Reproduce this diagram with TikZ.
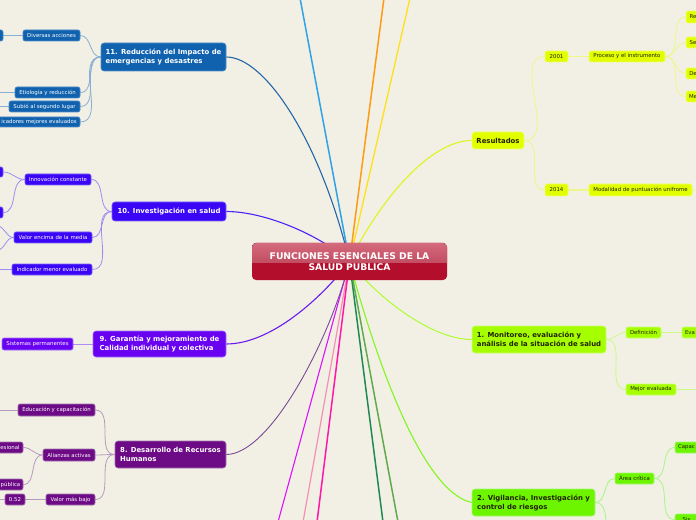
\documentclass[tikz,border=0pt]{standalone}
\usepackage{fontspec}
\setmainfont{DejaVu Sans}
\usetikzlibrary{backgrounds}
\definecolor{bgc}{HTML}{F2F0E4}
% node fills / borders
\definecolor{c11}{HTML}{1062AE}\definecolor{c11b}{HTML}{4F8CC8}\definecolor{c11l}{HTML}{88AED4}\definecolor{c11m}{HTML}{2566A8}
\definecolor{c10}{HTML}{3A06F5}\definecolor{c10b}{HTML}{7A60FA}\definecolor{c10l}{HTML}{9C8CF5}\definecolor{c10m}{HTML}{4B22F5}
\definecolor{c9}{HTML}{6A02F2}\definecolor{c9b}{HTML}{A070F8}\definecolor{c9l}{HTML}{B28CF5}\definecolor{c9m}{HTML}{6A1AF0}
\definecolor{c8}{HTML}{6D0A86}\definecolor{c8b}{HTML}{A070B0}\definecolor{c8l}{HTML}{B49AC0}\definecolor{c8m}{HTML}{7A4A98}
\definecolor{cr}{HTML}{E2FF00}\definecolor{crb}{HTML}{F0FF70}\definecolor{crl}{HTML}{EDF78A}\definecolor{crm}{HTML}{DEF51E}
\definecolor{c1}{HTML}{A6FF00}\definecolor{c1b}{HTML}{C8FF70}\definecolor{c1l}{HTML}{CBFA8A}\definecolor{c1m}{HTML}{A8FF20}
\definecolor{c2}{HTML}{6DF500}\definecolor{c2b}{HTML}{A0F870}\definecolor{c2l}{HTML}{A8F585}\definecolor{c2m}{HTML}{84F520}
\definecolor{dtext}{HTML}{222200}
% radial lines
\definecolor{lsky}{HTML}{2EA3E8}\definecolor{lora}{HTML}{FF9A14}\definecolor{lyel}{HTML}{FFE01A}
\definecolor{lmag}{HTML}{DD11FF}\definecolor{lpink}{HTML}{F58FB5}\definecolor{lhot}{HTML}{FF18A8}
\definecolor{ldg}{HTML}{1E8A52}\definecolor{lmg}{HTML}{5FAA4C}
\definecolor{cenbot}{HTML}{B30F2D}\definecolor{centopa}{HTML}{D46A7C}\definecolor{centopb}{HTML}{C24E62}
\newcommand{\bx}[7]{\node[#1, minimum width={((#5)-(#3))*1bp}, minimum height={((#6)-(#4))*1bp}] (#2) at ({((#3)+(#5))/2},{((#4)+(#6))/2}) {#7};}
\tikzset{
  mainnode/.style={rounded corners=3bp, inner sep=0pt, align=left, line width=0.6bp,
    font=\bfseries\fontsize{6.9bp}{9bp}\selectfont},
  subnode/.style={rounded corners=2bp, inner sep=0pt, line width=0.6bp,
    font=\fontsize{5.4bp}{6bp}\selectfont},
  s11/.style={fill=c11,draw=c11b,text=white},
  s10/.style={fill=c10,draw=c10b,text=white},
  s9/.style={fill=c9,draw=c9b,text=white},
  s8/.style={fill=c8,draw=c8b,text=white},
  sr/.style={fill=cr,draw=crb,text=dtext},
  s1/.style={fill=c1,draw=c1b,text=dtext},
  s2/.style={fill=c2,draw=c2b,text=dtext},
  subline/.style={line width=0.8bp},
  lt/.style={out=180,in=0},
  rt/.style={out=0,in=180},
}
\begin{document}
\begin{tikzpicture}[x=1bp,y=-1bp]
\useasboundingbox (0,0) rectangle (696,520);
\begin{pgfonlayer}{background}
\fill[bgc] (0,0) rectangle (696,520);
\end{pgfonlayer}

% central node
\fill[cenbot, rounded corners=4bp] (252,243) rectangle (447,280);
\begin{scope}
\clip[rounded corners=4bp] (252,243) rectangle (447,280);
\fill[top color=centopa, bottom color=centopb] (252,243) rectangle (447,262.5);
\end{scope}
\node[text=white, align=center, inner sep=0pt, minimum width=195bp, minimum height=37bp,
  font=\bfseries\fontsize{9.2bp}{11bp}\selectfont] (cen) at (349.5,261.5)
  {FUNCIONES ESENCIALES DE LA\\SALUD PUBLICA};

% main nodes
\bx{mainnode,s11}{n11}{101}{43}{226}{71}{11. Reducción del Impacto de\\emergencias y desastres}
\bx{mainnode,s10}{n10}{112}{202}{226}{221}{10. Investigación en salud}
\bx{mainnode,s9}{n9}{93}{331}{226}{357}{9. Garantía y mejoramiento de\\Calidad individual y colectiva}
\bx{mainnode,s8}{n8}{115}{441}{226}{468}{8. Desarrollo de Recursos\\Humanos}
\bx{mainnode,sr}{res}{472}{132}{524}{149}{Resultados}
\bx{mainnode,s1}{n1}{472}{326}{606}{353}{1. Monitoreo, evaluación y\\análisis de la situación de salud}
\bx{mainnode,s2}{n2}{472}{489}{595}{516}{2. Vigilancia, Investigación y\\control de riesgos}

% branch 11
\bx{subnode,s11}{a11}{-10}{30}{3}{41}{}
\bx{subnode,s11}{d11}{23}{30}{80}{41}{Diversas acciones}
\bx{subnode,s11}{e11}{15}{87}{80}{98}{Etiología y reducción}
\bx{subnode,s11}{u11}{9}{101}{80}{112}{Subió al segundo lugar}
\bx{subnode,s11}{i11}{-2}{117}{80}{127}{icadores mejores evaluados}
% branch 10
\bx{subnode,s10}{p10a}{-10}{167}{3}{177}{}
\bx{subnode,s10}{p10b}{-10}{207}{3}{218}{}
\bx{subnode,s10}{inn10}{25}{174}{91}{185}{Innovación constante}
\bx{subnode,s10}{val10}{14}{232}{92}{243}{Valor encima de la media}
\bx{subnode,s10}{ind10}{12}{264}{92}{275}{Indicador menor evaluado}
% branch 9
\bx{subnode,s9}{sys9}{2}{338}{73}{350}{Sistemas permanentes}
% branch 8
\bx{subnode,s8}{edu8}{18}{404}{95}{416}{Educación y capacitación}
\bx{subnode,s8}{ali8}{43}{449}{95}{461}{Alianzas activas}
\bx{subnode,s8}{pro8}{-3}{442}{23}{453}{esional}
\bx{subnode,s8}{pub8}{-2}{479}{23}{490}{pública}
\bx{subnode,s8}{val8}{46}{494}{95}{505}{Valor más bajo}
\bx{subnode,s8}{z8}{5}{494}{25}{505}{0.52}
% branch resultados
\bx{subnode,sr}{y01}{545}{51}{568}{62}{2001}
\bx{subnode,sr}{proc}{589}{51}{665}{62}{Proceso y el instrumento}
\bx{subnode,sr}{r1}{686}{11}{700}{23}{Re}
\bx{subnode,sr}{r2}{686}{37}{700}{48}{Se}
\bx{subnode,sr}{r3}{686}{68}{700}{79}{De}
\bx{subnode,sr}{r4}{686}{91}{700}{102}{Me}
\bx{subnode,sr}{y14}{545}{184}{568}{196}{2014}
\bx{subnode,sr}{mod}{589}{184}{692}{196}{Modalidad de puntuación unifrome}
% branch 1
\bx{subnode,s1}{def1}{626}{327}{661}{338}{Definición}
\bx{subnode,s1}{eva1}{682}{327}{698}{338}{Eva}
\bx{subnode,s1}{mej1}{626}{384}{676}{395}{Mejor evaluada}
% branch 2
\bx{subnode,s2}{are2}{615}{473}{654}{484}{Área crítica}
\bx{subnode,s2}{cap2}{675}{442}{698}{453}{Capac}
\bx{subnode,s2}{sis2}{675}{514}{698}{525}{Sis}

% free ends
\coordinate (t1) at (300,-2); \coordinate (t2) at (384,-2); \coordinate (t3) at (410,-2);
\coordinate (b1) at (278,522); \coordinate (b2) at (303,522); \coordinate (b3) at (317,522);
\coordinate (b4) at (383,522); \coordinate (b5) at (398,522);
\coordinate (e11a) at (-5,92.5); \coordinate (e11b) at (-5,106.5);
\coordinate (v10a) at (-3,226); \coordinate (v10b) at (-3,250); \coordinate (i10) at (-5,269.5);
\coordinate (ed8) at (-5,410); \coordinate (z8e) at (-5,499.5);
\coordinate (mode) at (700,190); \coordinate (meje) at (700,389.5);
\coordinate (n2d) at (606,526);

\begin{pgfonlayer}{background}
% radial lines
\draw[lsky, line width=1.5bp] (cen.center) -- (t1);
\draw[lora, line width=1.5bp] (cen.center) -- (t2);
\draw[lyel, line width=1.3bp] (cen.center) -- (t3);
\draw[lmag, line width=1.1bp] (cen.center) -- (b1);
\draw[lpink, line width=1.2bp] (cen.center) -- (b2);
\draw[lhot, line width=1.5bp] (cen.center) -- (b3);
\draw[ldg, line width=1.5bp] (cen.center) -- (b4);
\draw[lmg, line width=1.5bp] (cen.center) -- (b5);
% main curves
\draw[c11m, line width=1.1bp] (cen.center) .. controls (320,140) and (265,57) .. (n11.east);
\draw[c10m, line width=1.1bp] (cen.center) .. controls (320,235) and (265,211.5) .. (n10.east);
\draw[c9m, line width=1.1bp] (cen.center) .. controls (320,300) and (270,344) .. (n9.east);
\draw[c8m, line width=0.9bp] (cen.center) .. controls (330,340) and (270,454.5) .. (n8.east);
\draw[crm, line width=1.1bp] (cen.center) .. controls (380,200) and (430,140.5) .. (res.west);
\draw[c1m, line width=0.9bp] (cen.center) .. controls (375,295) and (430,339.5) .. (n1.west);
\draw[c2m, line width=1.1bp] (cen.center) .. controls (365,320) and (415,490) .. (n2.west);
% branch 11
\draw[c11l, subline] (n11.west) to[lt] (d11.east);
\draw[c11l, subline] (n11.west) to[lt] (e11.east);
\draw[c11l, subline] (n11.west) to[lt] (u11.east);
\draw[c11l, subline] (n11.west) to[lt] (i11.east);
\draw[c11l, line width=1.4bp] (d11.west) -- (a11.east);
\draw[c11l, subline] (e11.west) -- (e11a);
\draw[c11l, subline] (u11.west) -- (e11b);
% branch 10
\draw[c10l, subline] (n10.west) to[lt] (inn10.east);
\draw[c10l, subline] (n10.west) to[lt] (val10.east);
\draw[c10l, subline] (n10.west) to[lt] (ind10.east);
\draw[c10l, subline] (inn10.west) to[lt] (p10a.east);
\draw[c10l, subline] (inn10.west) to[lt] (p10b.east);
\draw[c10l, subline] (val10.west) to[lt] (v10a);
\draw[c10l, subline] (val10.west) to[lt] (v10b);
\draw[c10l, subline] (ind10.west) -- (i10);
% branch 9
\draw[c9l, line width=1bp] (n9.west) -- (sys9.east);
% branch 8
\draw[c8l, subline] (n8.west) to[lt] (edu8.east);
\draw[c8l, subline] (n8.west) to[lt] (ali8.east);
\draw[c8l, subline] (n8.west) to[lt] (val8.east);
\draw[c8l, subline] (ali8.west) to[lt] (pro8.east);
\draw[c8l, subline] (ali8.west) to[lt] (pub8.east);
\draw[c8l, line width=1.2bp] (val8.west) -- (z8.east);
\draw[c8l, subline] (edu8.west) -- (ed8);
\draw[c8l, subline] (z8.west) -- (z8e);
% branch resultados
\draw[crl, subline] (res.east) to[rt] (y01.west);
\draw[crl, subline] (res.east) to[rt] (y14.west);
\draw[crl, line width=1.2bp] (y01.east) -- (proc.west);
\draw[crl, line width=1.2bp] (y14.east) -- (mod.west);
\draw[crl, subline] (proc.east) to[rt] (r1.west);
\draw[crl, subline] (proc.east) to[rt] (r2.west);
\draw[crl, subline] (proc.east) to[rt] (r3.west);
\draw[crl, subline] (proc.east) to[rt] (r4.west);
\draw[crl, subline] (mod.east) -- (mode);
% branch 1
\draw[c1l, subline] (n1.east) to[rt] (def1.west);
\draw[c1l, subline] (n1.east) to[rt] (mej1.west);
\draw[c1l, line width=1.2bp] (def1.east) -- (eva1.west);
\draw[c1l, subline] (mej1.east) -- (meje);
% branch 2
\draw[c2l, subline] (n2.east) to[rt] (are2.west);
\draw[c2l, subline] (n2.east) to[out=0,in=90] (n2d);
\draw[c2l, subline] (are2.east) to[rt] (cap2.west);
\draw[c2l, subline] (are2.east) to[rt] (sis2.west);
\end{pgfonlayer}
\end{tikzpicture}
\end{document}
